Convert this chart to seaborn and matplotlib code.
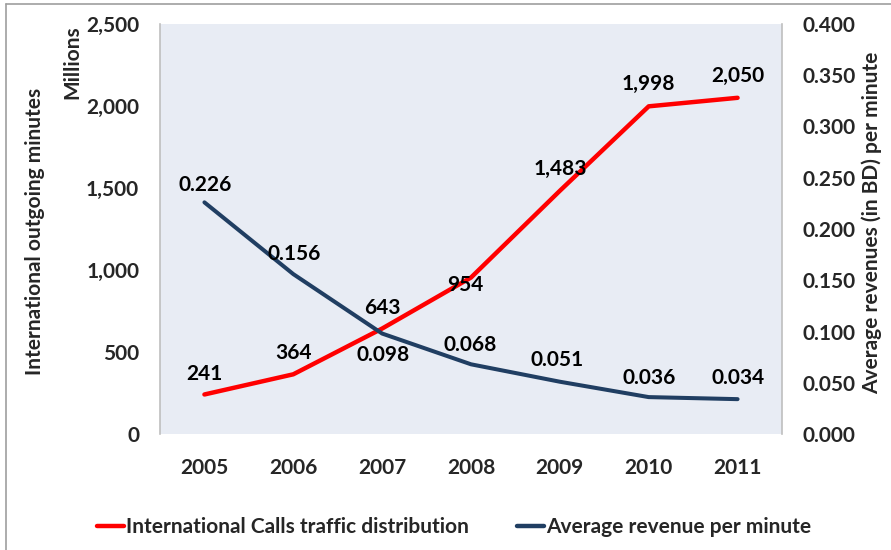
import matplotlib
matplotlib.use("Agg")
import matplotlib.pyplot as plt
from matplotlib.lines import Line2D
from matplotlib.ticker import FuncFormatter
import pandas as pd
import seaborn as sns

# data
years = ["2005", "2006", "2007", "2008", "2009", "2010", "2011"]
minutes = [241, 364, 643, 954, 1483, 1998, 2050]          # millions
revenue = [0.226, 0.156, 0.098, 0.068, 0.051, 0.036, 0.034]  # BD per minute
minutes_labels = ["241", "364", "643", "954", "1,483", "1,998", "2,050"]
revenue_labels = ["0.226", "0.156", "0.098", "0.068", "0.051", "0.036", "0.034"]

# label offsets in pixels (dx, dy upward)
minutes_off = [(0, 20), (0, 21), (0, 21), (-6, -7), (0, 22), (0, 22), (0, 22)]
revenue_off = [(1, 17), (1, 20), (1, -21), (-1, 19), (-3, 22), (0, 19), (0, 21)]

RED = "#FF0000"
NAVY = "#203E62"
GRID = "#BFBFBF"
FS = 15

df = pd.DataFrame({"year": years, "minutes": minutes, "revenue": revenue})

sns.set_style("white")
plt.rcParams["font.family"] = ["Lato", "DejaVu Sans"]
plt.rcParams["font.weight"] = "bold"

W, H = 891, 550
fig = plt.figure(figsize=(W / 100, H / 100), dpi=100)
ax = fig.add_axes([160 / W, 1 - 434 / H, (782 - 160) / W, (434 - 24) / H])
ax.set_facecolor("#E8ECF4")

sns.lineplot(data=df, x="year", y="minutes", ax=ax, color=RED, lw=3.2,
             label="International Calls traffic distribution", legend=False)
ax2 = ax.twinx()
sns.lineplot(data=df, x="year", y="revenue", ax=ax2, color=NAVY, lw=2.9,
             label="Average revenue per minute", legend=False)

ax.set_xlim(-0.5, 6.5)
ax.set_ylim(0, 2500)
ax2.set_ylim(0, 0.4)
ax.set_yticks(range(0, 2501, 500))
ax2.set_yticks([0, 0.05, 0.1, 0.15, 0.2, 0.25, 0.3, 0.35, 0.4])
ax.yaxis.set_major_formatter(FuncFormatter(lambda v, p: f"{v:,.0f}"))
ax2.yaxis.set_major_formatter(FuncFormatter(lambda v, p: f"{v:.3f}"))
ax.set_xlabel("")
ax.set_ylabel("")
ax2.set_ylabel("")

ax.tick_params(axis="y", length=0, pad=15, labelsize=FS)
ax.tick_params(axis="x", length=0, pad=17, labelsize=FS)
ax2.tick_params(axis="y", length=0, pad=15, labelsize=FS)
for lab in ax.get_xticklabels() + ax.get_yticklabels() + ax2.get_yticklabels():
    lab.set_fontweight("bold")

for s in ["top", "bottom"]:
    ax.spines[s].set_visible(False)
    ax2.spines[s].set_visible(False)
ax2.spines["left"].set_visible(False)
ax.spines["right"].set_visible(False)
ax.spines["left"].set_color(GRID)
ax2.spines["right"].set_color(GRID)
ax.spines["left"].set_linewidth(1.2)
ax2.spines["right"].set_linewidth(1.2)

# data labels
for i, (v, t) in enumerate(zip(minutes, minutes_labels)):
    dx, dy = minutes_off[i]
    ax.annotate(t, (years[i], v), xytext=(dx * 0.72, dy * 0.72),
                textcoords="offset points", ha="center", va="center",
                fontsize=FS, fontweight="bold", color="black")
for i, (v, t) in enumerate(zip(revenue, revenue_labels)):
    dx, dy = revenue_off[i]
    ax2.annotate(t, (years[i], v), xytext=(dx * 0.72, dy * 0.72),
                 textcoords="offset points", ha="center", va="center",
                 fontsize=FS, fontweight="bold", color="black")

# axis titles
fig.text(35 / W, 1 - 231 / H, "International outgoing minutes", rotation=90,
         ha="center", va="center", fontsize=FS, fontweight="bold")
fig.text(72 / W, 1 - 62 / H, "Millions", rotation=90,
         ha="center", va="center", fontsize=FS, fontweight="bold")
fig.text(872 / W, 1 - 223 / H, "Average revenues (in BD) per minute", rotation=90,
         ha="center", va="center", fontsize=FS, fontweight="bold")

# legend
handles = [Line2D([], [], color=RED, lw=3.2), Line2D([], [], color=NAVY, lw=3.2)]
fig.legend(handles, ["International Calls traffic distribution", "Average revenue per minute"],
           loc="center", bbox_to_anchor=(454 / W, 1 - 527 / H), ncol=2, frameon=False,
           handlelength=1.3, handletextpad=0.1, columnspacing=2.3,
           prop={"size": FS, "weight": "bold"})

# outer frame (left and top edges visible in the reference)
fig.add_artist(Line2D([6 / W, 6 / W], [0, 1 - 4 / H], color="#9E9E9E", lw=1.2))
fig.add_artist(Line2D([6 / W, 1], [1 - 4 / H, 1 - 4 / H], color="#9E9E9E", lw=1.2))

fig.savefig("out.png", dpi=100)
